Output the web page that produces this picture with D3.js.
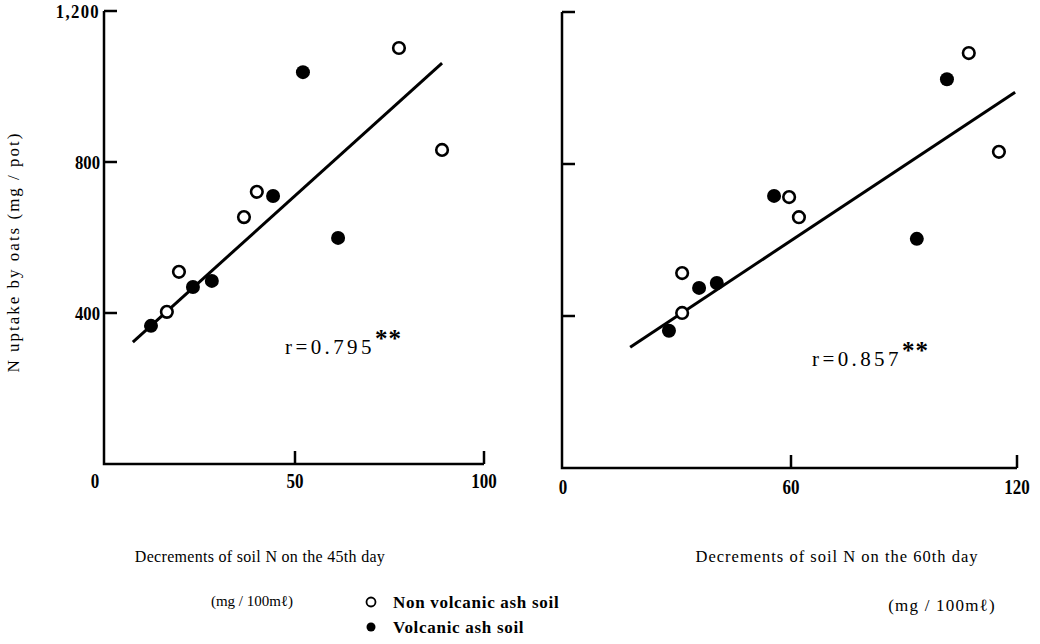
<!DOCTYPE html>
<html><head><meta charset="utf-8">
<script src="https://cdn.jsdelivr.net/npm/d3@7"></script>
<style>body{margin:0;background:#fff}</style>
</head><body>
<svg id="c" width="1040" height="644"></svg>
<script>
// Panel A: 45th day
const openA_x = [77.5, 88.9, 39.9, 36.5, 19.3, 16.1];
const openA_y = [1102, 832, 721, 654, 509, 403];
const fillA_x = [52.1, 44.2, 61.4, 23.0, 28.0, 11.9];
const fillA_y = [1038, 710, 599, 469, 485, 366];
const lineA_x = [7.1, 88.9];
const lineA_y = [323, 1062];
// Panel B: 60th day
const openB_x = [107.2, 115.2, 59.5, 62.1, 31.1, 31.1];
const openB_y = [1092, 832, 713, 660, 513, 408];
const fillB_x = [101.4, 55.5, 93.4, 35.6, 40.3, 27.6];
const fillB_y = [1023, 716, 603, 474, 487, 361];
const lineB_x = [17.3, 119.5];
const lineB_y = [318, 989];
const yTicks = [0, 400, 800, 1200];
const yTickLabels = ["", "400", "800", "1,200"];
const xTicksA = [0, 50, 100];
const xTicksB = [0, 60, 120];

const svg = d3.select("#c");
const serif = "'Liberation Serif','DejaVu Serif',serif";

function squeeze(sel, x, y, sx){
  sel.attr("transform",`translate(${x},${y}) scale(${sx},1) translate(${-x},${-y})`);
}

function panel(o){
  const x = d3.scaleLinear().domain([0, o.xmax]).range([o.x0, o.x1]);
  const y = d3.scaleLinear().domain([0, 1200]).range([o.y0, o.y1]);
  const g = svg.append("g");
  g.append("path").attr("d", `M${o.ax},${y(1200)}V${o.y0}H${x(o.xmax)}`)
    .attr("fill","none").attr("stroke","#000").attr("stroke-width",2.5);
  [400,800,1200].forEach(v=>{
    g.append("line").attr("x1",o.ax).attr("x2",o.ax+13).attr("y1",y(v)).attr("y2",y(v))
      .attr("stroke","#000").attr("stroke-width",2.5);
  });
  o.xt.slice(1).forEach(v=>{
    g.append("line").attr("x1",x(v)).attr("x2",x(v)).attr("y1",o.y0).attr("y2",o.y0-13)
      .attr("stroke","#000").attr("stroke-width",2.5);
  });
  if(o.ylabels){
    yTicks.forEach((v,i)=>{
      if(!yTickLabels[i]) return;
      const t = g.append("text").attr("x",o.ax-4).attr("y",y(v)+7).attr("text-anchor","end")
        .attr("font-family",serif).attr("font-weight","bold").attr("font-size",19)
        .attr("letter-spacing", v===1200 ? 1.5 : 0)
        .text(yTickLabels[i]);
      squeeze(t, o.ax-4, y(v), 0.88);
    });
  }
  o.xt.forEach(v=>{
    const xx = v===0 ? o.zeroLabelX : x(v);
    const t = g.append("text").attr("x",xx).attr("y",o.y0+o.xlabDy).attr("text-anchor","middle")
      .attr("font-family",serif).attr("font-weight","bold").attr("font-size",20)
      .text(v);
    squeeze(t, xx, 0, 0.85);
  });
  g.append("line").attr("x1",x(o.lx[0])).attr("y1",y(o.ly[0]))
    .attr("x2",x(o.lx[1])).attr("y2",y(o.ly[1]))
    .attr("stroke","#000").attr("stroke-width",3);
  o.fx.forEach((v,i)=>{
    g.append("circle").attr("cx",x(v)).attr("cy",y(o.fy[i])).attr("r",7).attr("fill","#000");
  });
  o.ox.forEach((v,i)=>{
    g.append("circle").attr("cx",x(v)).attr("cy",y(o.oy[i])).attr("r",5.8)
      .attr("fill","#fff").attr("stroke","#000").attr("stroke-width",2.6);
  });
  const t = g.append("text").attr("x",o.rx).attr("y",o.ry).attr("font-family",serif)
    .attr("font-size",21).attr("letter-spacing",3.4);
  t.append("tspan").text(o.rtext);
  t.append("tspan").attr("dy",-7).attr("font-weight","bold").attr("font-size",25)
    .attr("letter-spacing",1).text("**");
}

panel({xmax:100, x0:106, x1:484, y0:464, y1:11, ax:104,
  xt:xTicksA, zeroLabelX:95, ylabels:true, xlabDy:24,
  ox:openA_x, oy:openA_y, fx:fillA_x, fy:fillA_y, lx:lineA_x, ly:lineA_y,
  rx:285, ry:354, rtext:"r=0.795"});
panel({xmax:120, x0:565, x1:1017, y0:468, y1:12, ax:562,
  xt:xTicksB, zeroLabelX:563, ylabels:false, xlabDy:26,
  ox:openB_x, oy:openB_y, fx:fillB_x, fy:fillB_y, lx:lineB_x, ly:lineB_y,
  rx:812, ry:366, rtext:"r=0.857"});

svg.append("text").attr("transform","translate(19,252) rotate(-90)")
  .attr("text-anchor","middle").attr("font-family",serif).attr("font-size",17)
  .attr("letter-spacing",2).text("N uptake by oats (mg / pot)");

function txt(x,y,s,size,anchor,weight){
  return svg.append("text").attr("x",x).attr("y",y).attr("text-anchor",anchor||"middle")
    .attr("font-family",serif).attr("font-size",size).attr("font-weight",weight||"normal").text(s);
}
txt(260,562,"Decrements of soil N on the 45th day",16).attr("letter-spacing",0.3);
txt(252,606,"(mg / 100mℓ)",15);
txt(837,562,"Decrements of soil N on the 60th day",16.5).attr("letter-spacing",1);
txt(942,611,"(mg / 100mℓ)",17).attr("letter-spacing",1.2);

svg.append("circle").attr("cx",371).attr("cy",602).attr("r",4.5).attr("fill","#fff")
  .attr("stroke","#000").attr("stroke-width",1.8);
svg.append("circle").attr("cx",371).attr("cy",627).attr("r",4.5).attr("fill","#000");
txt(393,608,"Non volcanic ash soil",17,"start","bold").attr("letter-spacing",0.7);
txt(393,633,"Volcanic ash soil",17,"start","bold").attr("letter-spacing",0.7);
</script>
</body></html>
